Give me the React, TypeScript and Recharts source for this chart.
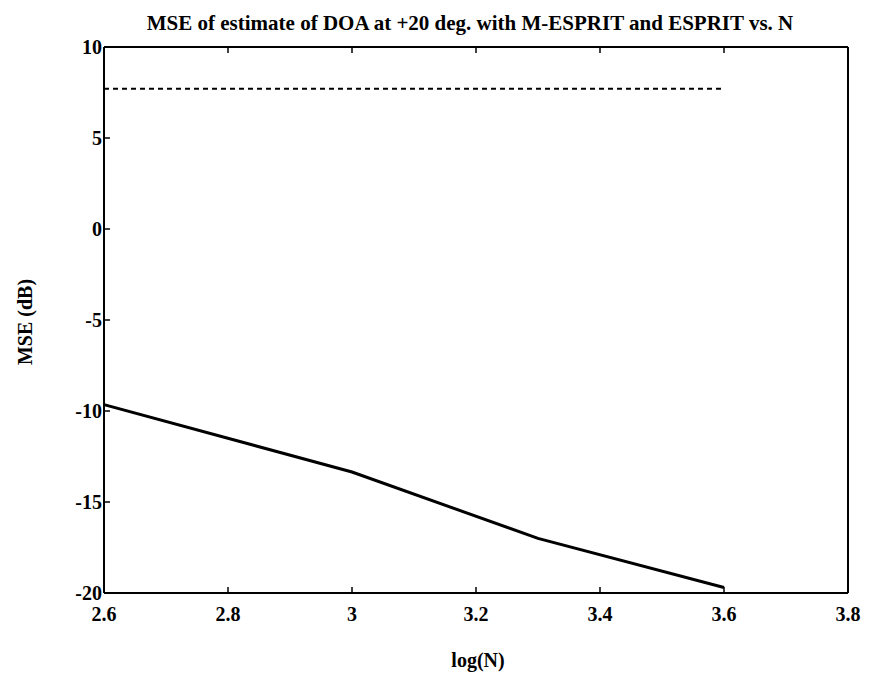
import React from 'react'
import { LineChart, Line, XAxis, YAxis } from 'recharts'

// values
const logN = [2.6, 3.0, 3.3, 3.6]
const mEspritMse = [-9.65, -13.35, -17.0, -19.7]
const espritMse = [7.7, 7.7, 7.7, 7.7]

const xTicks = [2.6, 2.8, 3, 3.2, 3.4, 3.6, 3.8]
const yTicks = [-20, -15, -10, -5, 0, 5, 10]

const data = logN.map((n, i) => ({ logN: n, mEsprit: mEspritMse[i], esprit: espritMse[i] }))

const font = '"Liberation Serif", "DejaVu Serif", serif'

const BottomTick = (props: any) => {
  const { x, y, payload } = props
  return (
    <g>
      <line x1={x} y1={y} x2={x} y2={y - 6} stroke="#000" strokeWidth={1.5} />
      <text x={x} y={y + 28} textAnchor="middle" fontFamily={font} fontWeight="bold" fontSize={20} fill="#000">
        {payload.value}
      </text>
    </g>
  )
}

const TopTick = (props: any) => {
  const { x, y } = props
  return <line x1={x} y1={y} x2={x} y2={y + 6} stroke="#000" strokeWidth={1.5} />
}

const LeftTick = (props: any) => {
  const { x, y, payload } = props
  return (
    <g>
      <line x1={x} y1={y} x2={x + 6} y2={y} stroke="#000" strokeWidth={1.5} />
      <text x={x - 2} y={y + 7} textAnchor="end" fontFamily={font} fontWeight="bold" fontSize={20} fill="#000">
        {payload.value}
      </text>
    </g>
  )
}

const RightTick = (props: any) => {
  const { x, y } = props
  return <line x1={x} y1={y} x2={x - 6} y2={y} stroke="#000" strokeWidth={1.5} />
}

const App = () => {
  return (
    <div style={{ position: 'absolute', left: 0, top: 0, width: 869, height: 678, background: '#fff', fontFamily: font }}>
      <div
        style={{
          position: 'absolute', left: 470, top: 23, fontSize: 21, fontWeight: 'bold', whiteSpace: 'nowrap', lineHeight: 1,
          transform: 'translate(-50%, -50%)',
        }}
      >
        MSE of estimate of DOA at +20 deg. with M-ESPRIT and ESPRIT vs. N
      </div>
      <div
        style={{
          position: 'absolute', left: 478, top: 660, fontSize: 20, fontWeight: 'bold', whiteSpace: 'nowrap', lineHeight: 1,
          transform: 'translate(-50%, -50%)',
        }}
      >
        log(N)
      </div>
      <div
        style={{
          position: 'absolute', left: 25, top: 322, fontSize: 20, fontWeight: 'bold', whiteSpace: 'nowrap', lineHeight: 1,
          transform: 'translate(-50%, -50%) rotate(-90deg)',
        }}
      >
        MSE (dB)
      </div>
      <LineChart width={869} height={678} data={data} margin={{ top: 46, right: 20, bottom: 55, left: 64 }}>
        <XAxis
          xAxisId="b" dataKey="logN" type="number" domain={[2.6, 3.8]} ticks={xTicks}
          axisLine={{ stroke: '#000', strokeWidth: 2 }} tickLine={false} tickSize={0} tickMargin={0}
          tick={BottomTick} height={30} interval={0}
        />
        <XAxis
          xAxisId="t" orientation="top" dataKey="logN" type="number" domain={[2.6, 3.8]} ticks={xTicks}
          axisLine={{ stroke: '#000', strokeWidth: 2 }} tickLine={false} tickSize={0} tickMargin={0}
          tick={TopTick} height={1} interval={0}
        />
        <YAxis
          yAxisId="l" type="number" domain={[-20, 10]} ticks={yTicks}
          axisLine={{ stroke: '#000', strokeWidth: 2 }} tickLine={false} tickSize={0} tickMargin={0}
          tick={LeftTick} width={40} interval={0}
        />
        <YAxis
          yAxisId="r" orientation="right" type="number" domain={[-20, 10]} ticks={yTicks}
          axisLine={{ stroke: '#000', strokeWidth: 2 }} tickLine={false} tickSize={0} tickMargin={0}
          tick={RightTick} width={1} interval={0}
        />
        <Line
          xAxisId="b" yAxisId="l" type="linear" dataKey="esprit" stroke="#000" strokeWidth={2}
          strokeDasharray="5 4" dot={false} isAnimationActive={false}
        />
        <Line
          xAxisId="b" yAxisId="l" type="linear" dataKey="mEsprit" stroke="#000" strokeWidth={3}
          dot={false} isAnimationActive={false}
        />
      </LineChart>
    </div>
  )
}

export default App
